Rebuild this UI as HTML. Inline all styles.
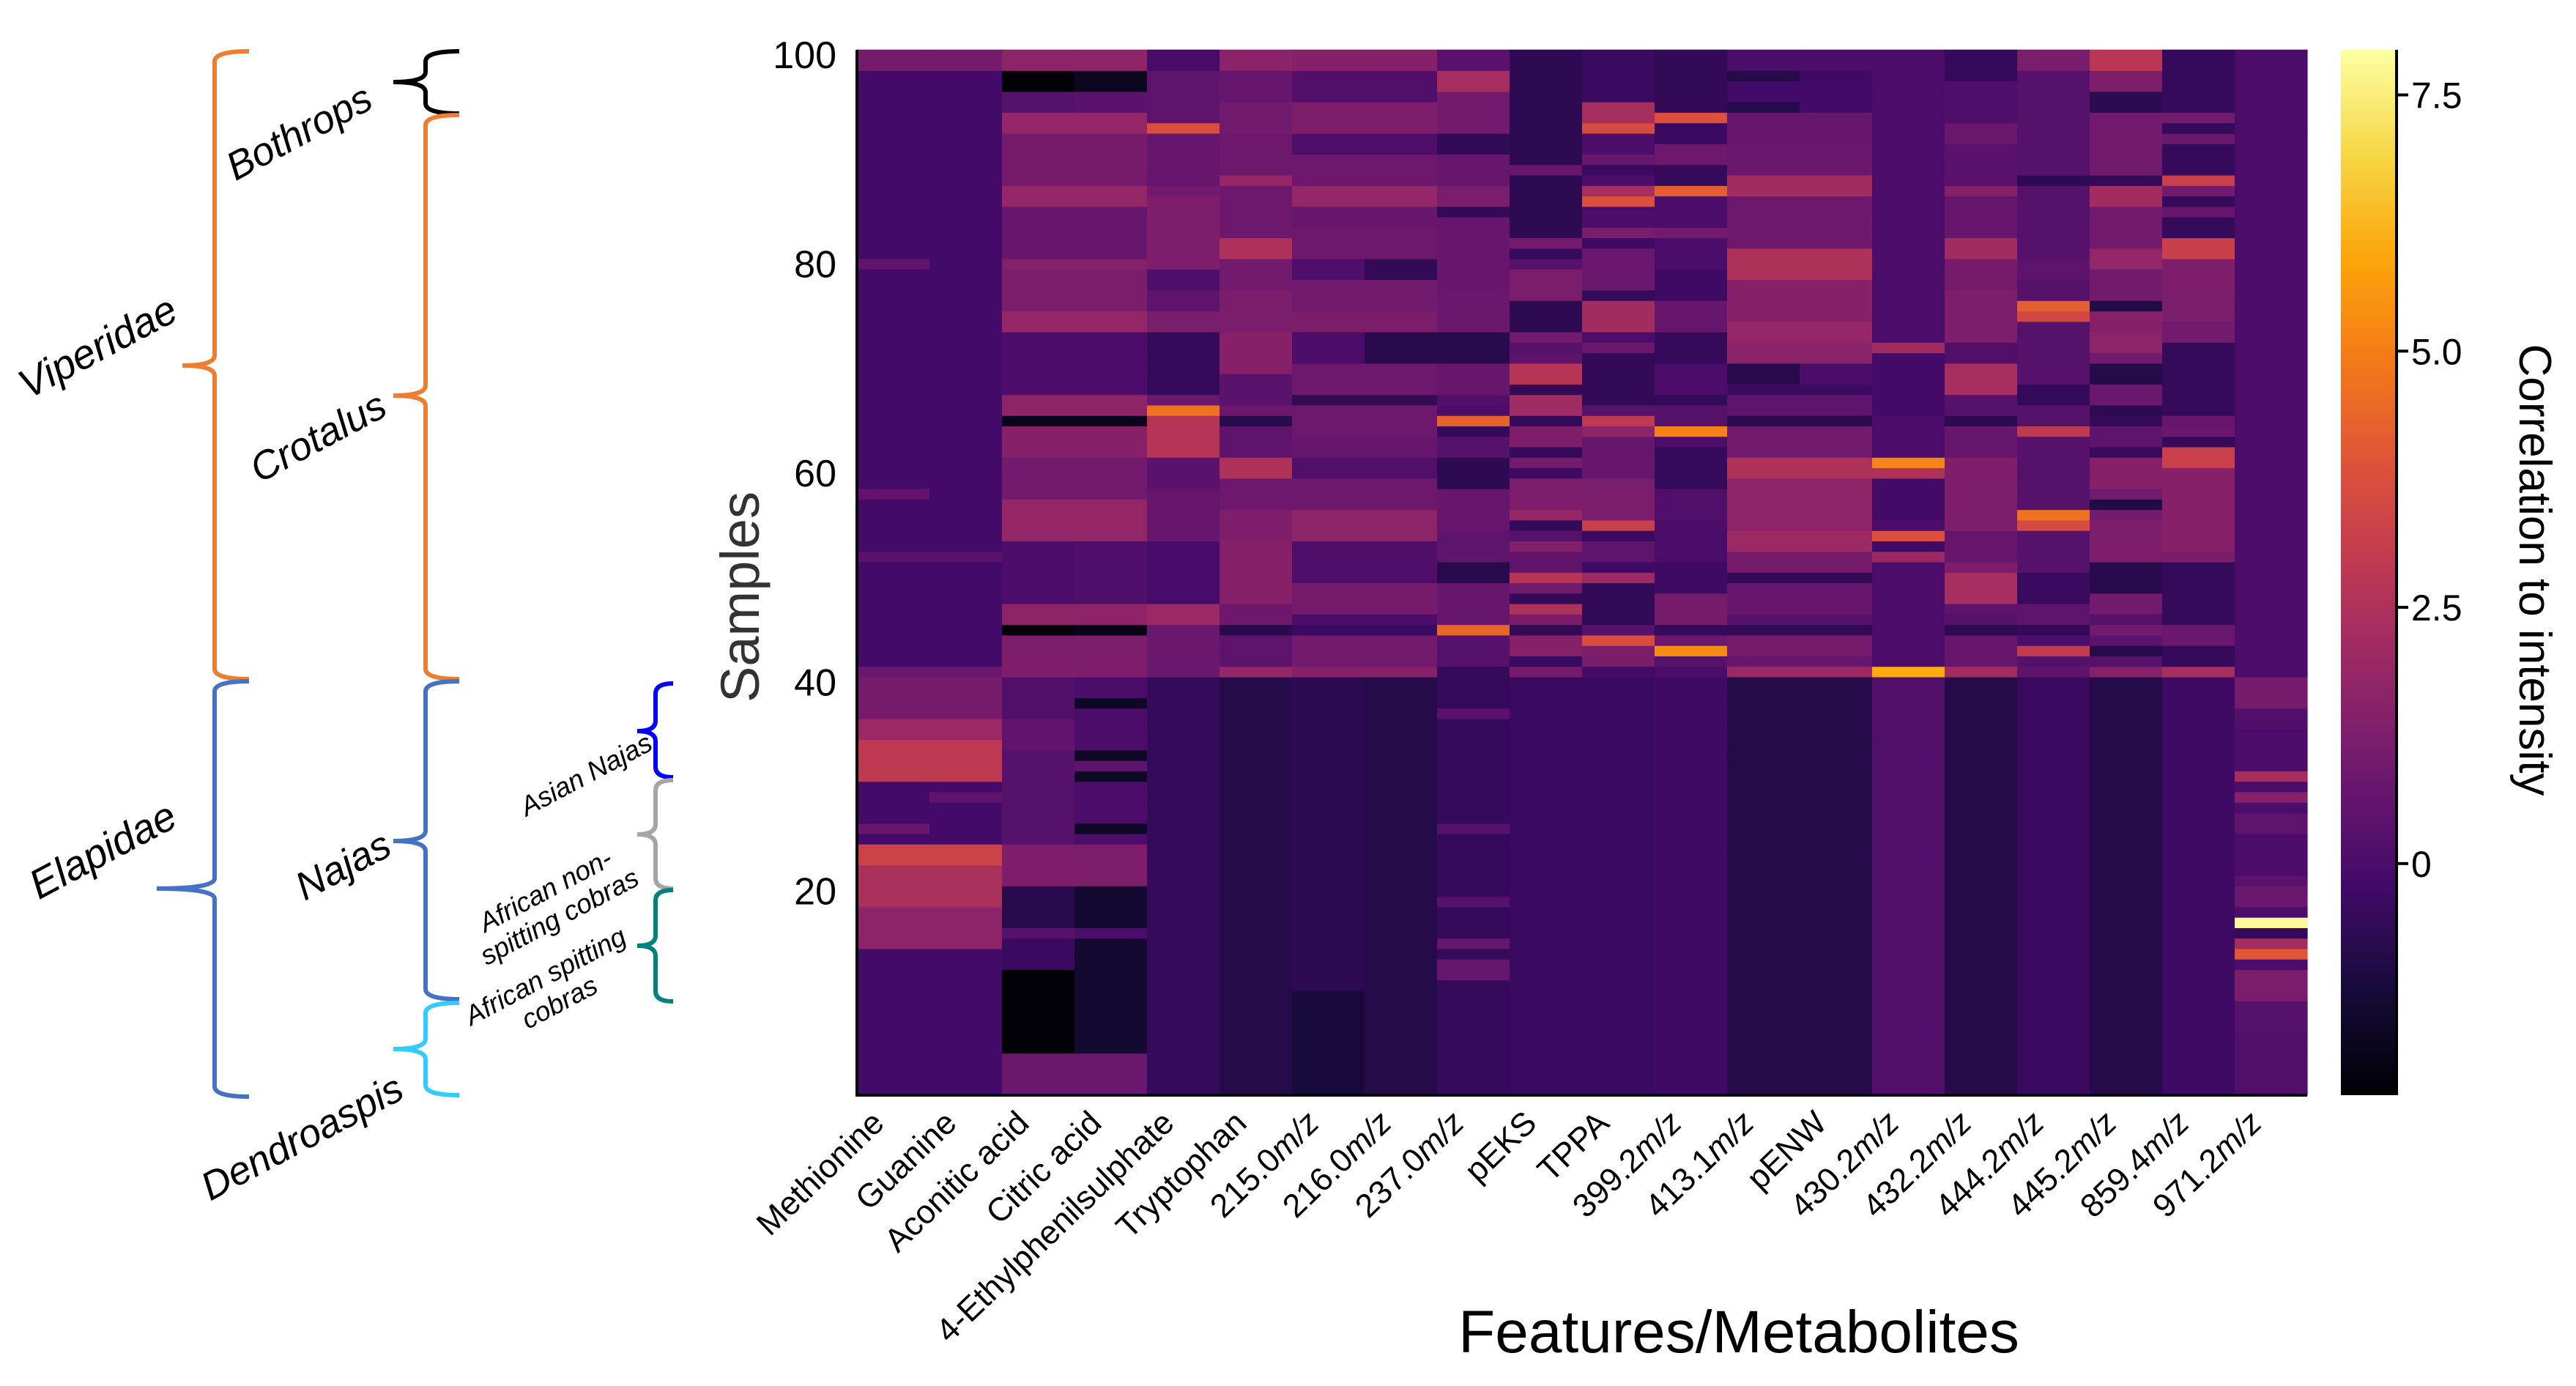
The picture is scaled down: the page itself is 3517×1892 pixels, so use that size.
<!DOCTYPE html>
<html><head><meta charset="utf-8"><style>
html,body{margin:0;padding:0;background:#fff;}
svg{display:block;font-family:"Liberation Sans",sans-serif;}
</style></head><body>
<svg id="chart" width="3517" height="1892" viewBox="0 0 3517 1892" xmlns="http://www.w3.org/2000/svg">
<defs><linearGradient id="cbgrad" x1="0" y1="1" x2="0" y2="0"></linearGradient></defs>
<g id="annot"></g>
<g id="cells"></g>
<g id="axes"></g>
<g id="cbar"></g>
</svg>
<script>
const features = ["Methionine","Guanine","Aconitic acid","Citric acid","4-Ethylphenilsulphate","Tryptophan","215.0|m/z","216.0|m/z","237.0|m/z","pEKS","TPPA","399.2|m/z","413.1|m/z","pENW","430.2|m/z","432.2|m/z","444.2|m/z","445.2|m/z","859.4|m/z","971.2|m/z"];
const yTicks = [20,40,60,80,100];
const cbTicks = [0,2.5,5.0,7.5];
const cbTickLabels = ["0","2.5","5.0","7.5"];
const vmin = -2.26, vmax = 7.94;
// segments per column: [fromRow, toRow, value]; later segments override earlier
const colMethionine = [[1,100,-0.2],[99,100,1.1],[80,80,0.6],[58,58,0.6],[52,52,0.4],[41,41,0.8],[37,40,1.1],[35,36,2.0],[31,34,2.9],[26,26,0.7],[23,24,3.3],[19,22,2.4],[15,18,1.7]];
const colGuanine = [[1,100,-0.2],[99,100,1.1],[52,52,0.4],[41,41,0.8],[37,40,1.1],[35,36,2.0],[31,34,2.9],[29,29,0.5],[23,24,3.3],[19,22,2.4],[15,18,1.7]];
const colAconitic = [[1,100,0.3],[99,100,1.7],[97,98,-2.2],[95,96,0.3],[93,94,1.8],[88,92,1.1],[86,87,1.8],[81,85,0.7],[80,80,1.5],[76,79,1.2],[74,75,1.8],[68,73,0.0],[66,67,1.7],[65,65,-1.8],[62,64,1.5],[58,61,1.0],[54,57,1.8],[48,53,0.0],[46,47,1.7],[45,45,-2.1],[41,44,1.3],[35,40,0.2],[34,36,0.6],[21,24,1.3],[17,20,-0.8],[13,15,-0.4],[5,12,-2.2],[1,4,0.8]];
const colCitric = [[1,100,0.0],[99,100,1.7],[97,98,-1.7],[95,96,0.4],[93,94,1.8],[88,92,1.1],[86,87,1.8],[81,85,0.7],[80,80,1.5],[76,79,1.2],[74,75,1.8],[68,73,0.0],[66,67,1.7],[65,65,-1.8],[62,64,1.5],[58,61,1.0],[54,57,1.8],[48,53,0.1],[46,47,1.7],[45,45,-1.9],[41,44,1.3],[38,38,-1.6],[33,33,-1.6],[32,32,0.5],[31,31,-1.6],[26,26,-1.6],[21,24,1.3],[17,20,-1.4],[16,16,0.0],[5,15,-1.4],[1,4,0.8]];
const colEthyl = [[1,100,-0.5],[41,100,0.5],[99,100,-0.1],[97,98,0.5],[93,93,3.7],[88,92,0.7],[87,87,1.0],[80,86,1.3],[78,79,0.1],[74,75,1.2],[68,73,-0.5],[67,67,0.8],[66,66,4.7],[62,65,2.7],[59,61,0.4],[54,58,0.7],[48,53,-0.1],[46,47,2.0],[41,45,0.8]];
const colTryptophan = [[1,100,-0.9],[41,100,0.9],[99,100,1.6],[96,98,0.7],[93,95,1.0],[88,88,1.9],[81,82,2.5],[78,80,1.0],[74,77,1.2],[70,73,1.5],[67,69,0.4],[65,65,-0.8],[62,64,0.5],[60,61,2.5],[54,56,1.3],[48,53,1.5],[45,45,-0.8],[42,44,0.5],[41,41,1.9]];
const col215 = [[1,100,-0.7],[1,10,-1.2],[41,100,0.9],[99,100,1.5],[96,98,0.2],[93,95,1.3],[91,92,0.1],[86,87,1.8],[84,85,0.7],[79,80,0.1],[76,78,1.0],[74,75,1.2],[71,73,0.0],[67,67,-0.6],[62,63,0.7],[60,61,0.2],[54,56,1.7],[50,53,0.1],[47,49,1.1],[46,46,0.0],[45,45,-0.4],[42,44,1.0],[41,41,1.5]];
const col216 = [[1,100,-0.9],[41,100,0.9],[99,100,1.5],[96,98,0.2],[93,95,1.3],[91,92,0.1],[86,87,1.8],[84,85,0.7],[79,80,-0.6],[76,78,1.0],[74,75,1.2],[71,73,-0.8],[67,67,-0.6],[62,63,0.7],[60,61,0.2],[54,56,1.7],[50,53,0.1],[47,49,1.1],[46,46,0.0],[45,45,-0.4],[42,44,1.0],[41,41,1.5]];
const col237 = [[1,100,-0.5],[41,100,0.7],[99,100,0.4],[97,98,2.3],[93,96,1.0],[91,92,-0.6],[86,87,1.2],[85,85,-0.6],[74,77,0.8],[71,73,-0.8],[67,67,0.2],[66,66,0.0],[65,65,4.3],[64,64,-0.5],[62,63,0.3],[59,61,-0.7],[52,54,0.5],[50,51,-0.8],[45,45,4.4],[42,44,0.3],[41,41,-0.5],[37,37,0.4],[26,26,0.3],[19,19,0.3],[15,15,0.7],[12,13,0.7]];
const colPEKS = [[1,100,-0.4],[41,100,-0.7],[89,89,0.7],[82,82,1.1],[81,81,-0.5],[80,80,0.3],[77,79,1.2],[73,73,1.0],[72,72,0.3],[71,71,0.5],[69,70,2.7],[68,68,-0.6],[66,67,2.1],[65,65,-0.5],[63,64,1.3],[62,62,-0.5],[61,61,1.0],[60,60,-0.3],[57,59,1.3],[56,56,1.9],[55,55,-0.5],[54,54,0.3],[53,53,1.4],[51,52,0.6],[50,50,2.7],[49,49,1.0],[48,48,-0.6],[47,47,2.5],[46,46,1.2],[45,45,-0.6],[43,44,1.5],[42,42,-0.4],[41,41,1.1]];
const colTPPA = [[1,100,-0.4],[94,95,2.3],[93,93,3.6],[91,92,0.0],[90,90,0.7],[88,88,0.0],[87,87,2.3],[86,86,3.8],[84,85,0.0],[83,83,1.2],[82,82,-0.3],[78,81,0.8],[77,77,-0.5],[74,76,2.2],[73,73,0.0],[72,72,0.8],[67,71,-0.6],[66,66,0.3],[65,65,2.9],[64,64,1.7],[60,63,0.7],[56,59,1.2],[55,55,3.2],[54,54,-0.4],[52,53,0.5],[51,51,-0.3],[50,50,2.0],[46,49,-0.6],[45,45,0.3],[44,44,3.7],[42,43,1.2],[41,41,-0.2]];
const col399 = [[1,100,-0.3],[95,100,-0.6],[94,94,3.8],[92,93,-0.4],[90,91,0.9],[88,89,-0.5],[87,87,4.2],[84,86,0.0],[83,83,1.0],[80,82,0.0],[77,79,-0.3],[74,76,0.7],[71,73,-0.5],[68,70,0.0],[67,67,-0.5],[65,66,0.3],[64,64,5.1],[63,63,0.0],[59,62,-0.5],[56,58,0.2],[52,55,0.0],[49,51,-0.3],[46,48,1.1],[45,45,-0.5],[44,44,0.8],[43,43,5.3],[42,42,0.3],[41,41,0.0]];
const col413 = [[1,100,-0.9],[41,100,1.0],[99,100,0.0],[98,98,-0.9],[96,97,-0.2],[95,95,-0.9],[92,94,0.7],[89,91,0.8],[87,88,2.2],[82,86,0.9],[79,81,2.5],[75,78,1.5],[73,74,1.9],[71,72,1.6],[69,70,-0.8],[68,68,-0.4],[66,67,0.5],[65,65,-0.7],[62,64,1.0],[60,61,2.5],[55,59,1.7],[53,54,2.0],[51,52,1.1],[50,50,-0.6],[47,49,0.7],[46,46,0.3],[45,45,-0.6],[43,44,1.1],[42,42,0.7],[41,41,2.0]];
const colPENW = [[1,100,-0.9],[41,100,1.0],[99,100,0.0],[98,98,-0.3],[96,97,-0.2],[95,95,-0.2],[92,94,0.7],[89,91,0.8],[87,88,2.2],[82,86,0.9],[79,81,2.5],[75,78,1.5],[73,74,1.9],[71,72,1.6],[69,70,0.0],[68,68,-0.4],[66,67,0.5],[65,65,-0.7],[62,64,1.0],[60,61,2.5],[55,59,1.7],[53,54,2.0],[51,52,1.1],[50,50,-0.6],[47,49,0.7],[46,46,0.3],[45,45,-0.6],[43,44,1.1],[42,42,0.7],[41,41,2.0]];
const col430 = [[1,100,0.2],[41,100,0.0],[72,72,2.2],[66,71,-0.2],[61,61,5.2],[60,60,2.5],[56,59,-0.2],[54,54,3.8],[53,53,-0.3],[52,52,2.0],[41,41,6.0]];
const col432 = [[1,100,-0.9],[41,100,0.8],[98,100,-0.5],[94,97,0.1],[92,93,0.8],[88,91,0.4],[87,87,1.5],[83,86,0.7],[81,82,2.2],[78,80,1.1],[73,77,1.3],[71,72,0.2],[68,70,2.3],[66,67,0.3],[65,65,-0.7],[62,64,0.7],[55,61,1.3],[52,54,0.7],[51,51,1.3],[48,50,2.3],[47,47,0.5],[46,46,0.3],[45,45,-0.7],[42,44,0.7],[41,41,2.2]];
const col444 = [[1,100,-0.4],[41,100,0.3],[99,100,1.2],[97,98,0.3],[88,88,-0.7],[79,80,0.5],[76,76,4.2],[75,75,3.5],[67,68,-0.5],[64,64,2.9],[56,56,4.7],[55,55,3.6],[48,50,-0.4],[46,47,0.5],[45,45,-0.6],[44,44,0.0],[43,43,3.0],[41,41,0.5]];
const col445 = [[1,100,-0.9],[41,100,1.0],[99,100,2.8],[97,98,1.3],[95,96,-0.7],[88,88,-0.6],[86,87,2.2],[80,81,1.8],[76,76,-1.0],[74,75,1.5],[72,73,1.7],[69,70,-0.9],[67,68,0.8],[66,66,-0.7],[65,65,-0.5],[63,64,0.5],[62,62,-0.4],[59,61,1.5],[57,57,-1.0],[52,55,1.3],[49,51,-0.8],[47,48,1.0],[46,46,0.3],[44,44,0.4],[43,43,-0.9],[42,42,0.3],[41,41,1.5]];
const col859 = [[1,100,-0.3],[41,100,-0.5],[94,94,1.0],[92,92,0.8],[88,88,3.2],[87,87,1.0],[85,85,0.7],[81,82,3.2],[78,80,1.3],[75,77,1.2],[73,74,1.0],[65,65,0.7],[64,64,0.8],[61,62,3.2],[56,60,1.5],[53,55,1.5],[52,52,1.2],[44,45,0.8],[41,41,2.3]];
const col971 = [[1,100,0.0],[38,40,1.1],[36,37,0.2],[31,31,2.3],[29,29,1.5],[26,27,0.5],[21,21,0.4],[19,20,0.8],[17,17,7.8],[16,16,-0.5],[15,15,2.3],[14,14,4.0],[10,12,1.2],[7,9,0.3],[1,6,0.2]];
const columns = [colMethionine,colGuanine,colAconitic,colCitric,colEthyl,colTryptophan,col215,col216,col237,colPEKS,colTPPA,col399,col413,colPENW,col430,col432,col444,col445,col859,col971];

const NS = "http://www.w3.org/2000/svg";
const PX0 = 1170, PX1 = 3150, PY0 = 68, PY1 = 1495, NROWS = 100;
const CBX0 = 3196, CBX1 = 3272;
const colW = (PX1 - PX0) / features.length, rowH = (PY1 - PY0) / NROWS;
const xCol = i => PX0 + i * colW;
const yRowTop = r => PY0 + (NROWS - r) * rowH;
const yVal = v => PY0 + (NROWS + 0.5 - v) * rowH;
const cbY = v => PY1 - (v - vmin) / (vmax - vmin) * (PY1 - PY0);
const stops = ["#000004","#160b39","#420a68","#6a176e","#932667","#bc3754","#dd513a","#f37819","#fca50a","#f6d746","#fcffa4"];
function hex(h){return [1,3,5].map(i=>parseInt(h.substr(i,2),16));}
function cmap(v){
  let t = Math.max(0, Math.min(1, (v - vmin) / (vmax - vmin)));
  const p = t * 10, i = Math.min(9, Math.floor(p)), f = p - i;
  const a = hex(stops[i]), b = hex(stops[i+1]);
  return "rgb(" + a.map((c,k)=>Math.round(c + (b[k]-c)*f)).join(",") + ")";
}
function mk(tag, attrs, parent){const e=document.createElementNS(NS,tag);for(const k in attrs)e.setAttribute(k,attrs[k]);parent.appendChild(e);return e;}

// cells
const cells = document.getElementById("cells");
columns.forEach((segs, ci) => {
  const vals = new Array(NROWS + 1).fill(0);
  segs.forEach(s => { for (let r = s[0]; r <= s[1]; r++) vals[r] = s[2]; });
  for (let r = 1; r <= NROWS; r++) {
    const rc = mk("rect", {x: xCol(ci), y: yRowTop(r) - 0.3, width: colW + 0.6, height: rowH + 0.6, fill: cmap(vals[r])}, cells);
    
    
  }
});

// axes
const axes = document.getElementById("axes");
const ax = mk("path", {d: `M${PX0},${PY0} V${PY1} H${PX1}`, stroke: "#000", "stroke-width": 4, fill: "none"}, axes);


yTicks.forEach(v => {
  const t = mk("text", {x: 1142, y: yVal(v) + 18, "text-anchor": "end", "font-size": 52, fill: "#000"}, axes);
  t.textContent = String(v);
  
  
});
features.forEach((f, i) => {
  const cx = xCol(i) + colW / 2 - 10, cy = 1536;
  const t = mk("text", {x: cx, y: cy, "text-anchor": "end", "font-size": 45, fill: "#000", transform: `rotate(-44 ${cx} ${cy})`}, axes);
  
  
  const parts = f.split("|");
  const s1 = mk("tspan", {}, t); s1.textContent = parts[0];
  if (parts[1]) { const s2 = mk("tspan", {"font-style": "italic"}, t); s2.textContent = parts[1]; }
});
const yl = mk("text", {x: 1036, y: 815, "text-anchor": "middle", "font-size": 74, fill: "#333", transform: "rotate(-90 1036 815)"}, axes);
yl.textContent = "Samples";


const xl = mk("text", {x: 2374, y: 1846, "text-anchor": "middle", "font-size": 82, fill: "#000"}, axes);
xl.textContent = "Features/Metabolites";



// colorbar
const grad = document.getElementById("cbgrad");
for (let k = 0; k <= 20; k++) {
  const v = vmin + (vmax - vmin) * k / 20;
  mk("stop", {offset: (k / 20), "stop-color": cmap(v)}, grad);
}
const cb = document.getElementById("cbar");
const cbr = mk("rect", {x: CBX0, y: PY0, width: CBX1 - CBX0, height: PY1 - PY0, fill: "url(#cbgrad)"}, cb);


const cba = mk("line", {x1: CBX1, y1: PY0, x2: CBX1, y2: PY1, stroke: "#000", "stroke-width": 4}, cb);


cbTicks.forEach((v, i) => {
  const tk = mk("line", {x1: CBX1, y1: cbY(v), x2: CBX1 + 16, y2: cbY(v), stroke: "#000", "stroke-width": 4}, cb);
  
  
  const t = mk("text", {x: CBX1 + 20, y: cbY(v) + 18, "font-size": 50, fill: "#000"}, cb);
  t.textContent = cbTickLabels[i];
  
  
});
const cl = mk("text", {x: 3440, y: 778, "text-anchor": "middle", "font-size": 62, fill: "#000", transform: "rotate(90 3440 778)"}, cb);
cl.textContent = "Correlation to intensity";



// taxonomy braces
const annot = document.getElementById("annot");
function brace(x, y1, y2, ym, tipX, midX, color, name) {
  const r = 14;
  const d = `M${tipX},${y1} Q${x},${y1} ${x},${y1 + r} L${x},${ym - r} Q${x},${ym} ${midX},${ym} Q${x},${ym} ${x},${ym + r} L${x},${y2 - r} Q${x},${y2} ${tipX},${y2}`;
  const p = mk("path", {d: d, stroke: color, "stroke-width": 6, fill: "none"}, annot);
  
  
}
brace(293, 70, 927, 499, 340, 249, "#ed7d31", "viperidae-brace");
brace(293, 930, 1497, 1213, 340, 214, "#4472c4", "elapidae-brace");
brace(581, 70, 155, 112, 627, 537, "#000000", "bothrops-brace");
brace(581, 157, 927, 540, 627, 537, "#ed7d31", "crotalus-brace");
brace(581, 930, 1364, 1148, 627, 537, "#4472c4", "najas-brace");
brace(581, 1369, 1495, 1432, 627, 537, "#33ccff", "dendroaspis-brace");
brace(895, 933, 1061, 998, 919, 870, "#0000ff", "asian-najas-brace");
brace(895, 1065, 1213, 1139, 919, 870, "#a5a5a5", "african-non-spitting-brace");
brace(895, 1215, 1367, 1291, 919, 870, "#00807f", "african-spitting-brace");
function label(lines, x, y, size, name, ang) {
  const t = mk("text", {x: x, y: y, "text-anchor": "middle", "font-size": size, "font-style": "italic", fill: "#000", transform: `rotate(${ang} ${x} ${y})`}, annot);
  
  
  lines.forEach((ln, i) => {
    const s = mk("tspan", {x: x, dy: i === 0 ? (-(lines.length - 1) * size * 0.55 + size * 0.35) : size * 1.1}, t);
    s.textContent = ln;
  });
}
label(["Viperidae"], 133, 473, 56, "viperidae-label", -28);
label(["Elapidae"], 140, 1160, 56, "elapidae-label", -28);
label(["Bothrops"], 408, 180, 54, "bothrops-label", -28);
label(["Crotalus"], 434, 596, 54, "crotalus-label", -28);
label(["Najas"], 468, 1181, 54, "najas-label", -28);
label(["Dendroaspis"], 412, 1552, 54, "dendroaspis-label", -28);
label(["Asian Najas"], 800, 1057, 37, "asian-najas-label", -28);
label(["African non-", "spitting cobras"], 754, 1233, 37, "african-non-spitting-label", -28);
label(["African spitting", "cobras"], 754, 1350, 37, "african-spitting-label", -28);
</script>
</body></html>
